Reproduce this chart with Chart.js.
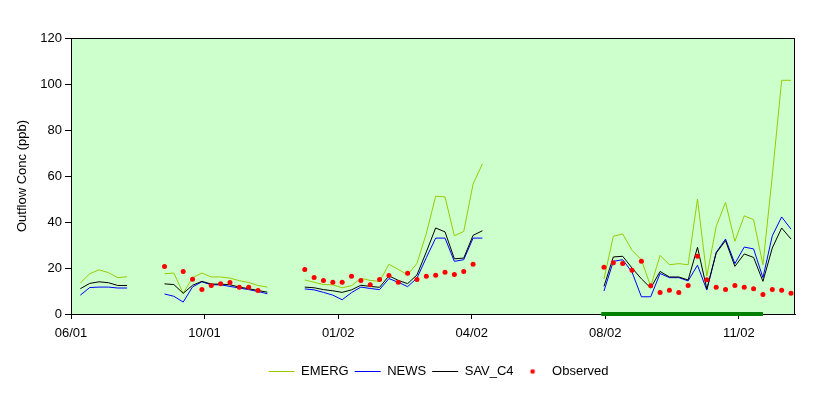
<!DOCTYPE html>
<html>
<head>
<meta charset="utf-8">
<script src="https://cdn.jsdelivr.net/npm/chart.js@4.4.0/dist/chart.umd.min.js"></script>
<style>
  html, body { margin: 0; padding: 0; background: #ffffff; }
</style>
</head>
<body>
<canvas id="chart" width="828" height="395"></canvas>
<script>
// weekly samples, day offsets from the first axis date (06/01)
const firstSampleDay = 7;
const sampleStepDays = 7;
const axisMaxDay = 542;

const tickLabels = ['06/01', '10/01', '01/02', '04/02', '08/02', '11/02'];
const tickStepDays = 100;

const emerg = [
  13.5, 17.5, 19.2, 18, 15.8, 16.2,
  null, null, null,
  17.5, 17.8, 9, 15.8, 17.8, 16.1, 16.1, 15.6, 14.5, 13.7, 12.4, 11.7,
  null, null, null,
  14.8, 13.8, 12.8, 12.7, 11.4, 12.3, 15.5, 14.6, 14.2, 21.6, 19.4, 17, 22, 35, 51.2, 50.9, 34, 35.9, 56.5, 65.3,
  null, null, null, null, null, null, null, null, null, null, null, null,
  15.2, 33.8, 34.8, 27.7, 23.6, 12, 25.5, 21.4, 21.9, 21.4, 50, 16.4, 38.1, 48.5, 31.6, 42.7, 41, 21.4, 60, 101.6, 101.6
];

const news = [
  8.2, 11.5, 11.7, 11.7, 11.3, 11.3,
  null, null, null,
  8.7, 7.7, 5.2, 11.8, 14, 12.7, 12.7, 12, 11.3, 10.6, 9.8, 8.8,
  null, null, null,
  10.9, 10.5, 9.4, 8.2, 6.2, 9.3, 11.7, 11.1, 10.6, 15.4, 13.8, 11.9, 15.6, 24.5, 33, 33, 22.9, 23.6, 33, 33,
  null, null, null, null, null, null, null, null, null, null, null, null,
  10, 22.9, 23.6, 18.2, 7.5, 7.5, 17.6, 15.8, 15.8, 14.4, 21.2, 10.4, 26.8, 32.6, 21.9, 29.1, 28.3, 15.8, 34, 42.2, 36.9
];

const savC4 = [
  11, 13.3, 14, 13.6, 12.4, 12.4,
  null, null, null,
  13.1, 12.8, 9, 12.5, 14.2, 13, 13, 12.7, 11.7, 11, 10.2, 9.5,
  null, null, null,
  11.7, 11.4, 10.6, 10.1, 9.4, 10.5, 12.5, 12, 11.6, 16.6, 14.6, 13.2, 17, 27, 37.4, 35.7, 24, 24.3, 34.2, 36.2,
  null, null, null, null, null, null, null, null, null, null, null, null,
  12, 24.8, 25.1, 20, 15.3, 11.3, 18.5, 16.1, 16.1, 14.8, 29, 10.9, 26.5, 31.9, 20.7, 26.1, 24.6, 14.2, 28.7, 37.4, 32.6
];

const observed = [
  null, null, null, null, null, null, null, null, null,
  20.7, null, 18.5, 15.1, 10.6, 12.4, 13.2, 13.7, 11.6, 11.6, 10.2,
  null, null, null, null,
  19.4, 15.9, 14.6, 13.8, 13.8, 16.4, 14.6, 12.7, 15.0, 16.7, 13.8, 17.7, 15.0, 16.4, 16.8, 18.1, 17.2, 18.5, 21.6,
  null, null, null, null, null, null, null, null, null, null, null, null, null,
  20.3, 22.3, 22.0, 19.0, 22.9, 12.3, 9.4, 10.3, 9.4, 12.4, 25.1, 14.9, 11.6, 10.7, 12.4, 11.6, 11.0, 8.5, 10.7, 10.3, 9.0
];

// highlighted period on the time axis (days)
const periodDays = [397, 518];

const toPoints = arr => arr.map((v, i) => ({ x: firstSampleDay + i * sampleStepDays, y: v }));

const FONT = "'Liberation Sans', Arial, sans-serif";

// small red dot used as the legend symbol for Observed
const dot = document.createElement('canvas');
dot.width = 26; dot.height = 8;
(function () {
  const c = dot.getContext('2d');
  c.fillStyle = '#ff0000';
  c.beginPath();
  c.arc(13, 4, 2.3, 0, Math.PI * 2);
  c.fill();
})();

const plotFrame = {
  id: 'plotFrame',
  beforeDatasetsDraw(chart) {
    const { ctx, chartArea: a } = chart;
    ctx.save();
    ctx.strokeStyle = '#000000';
    ctx.lineWidth = 1;
    ctx.strokeRect(a.left + 0.5, a.top + 0.5, a.right - a.left - 1, a.bottom - a.top);
    ctx.restore();
  },
  beforeDraw(chart) {
    const { ctx, chartArea: a } = chart;
    ctx.save();
    ctx.fillStyle = '#ccffcc';
    ctx.fillRect(a.left, a.top, a.right - a.left, a.bottom - a.top);
    ctx.restore();
  }
};

// Excel centres the legend a bit right of the canvas centre
const legendShift = {
  id: 'legendShift',
  afterLayout(chart) {
    const lg = chart.legend;
    lg.left += 41;
    lg.right += 41;
  }
};

const lineStyle = (label, data, color, order) => ({
  label: label,
  data: toPoints(data),
  borderColor: color,
  backgroundColor: color,
  borderWidth: 1,
  pointRadius: 0,
  spanGaps: false,
  order: order
});

new Chart(document.getElementById('chart'), {
  type: 'line',
  data: {
    datasets: [
      lineStyle('EMERG', emerg, '#99cc00', 4),
      lineStyle('NEWS', news, '#0000ff', 3),
      lineStyle('SAV_C4', savC4, '#000000', 2),
      {
        label: 'Observed',
        data: toPoints(observed),
        showLine: false,
        pointRadius: 2.5,
        pointStyle: 'circle',
        pointBackgroundColor: '#ff0000',
        pointBorderWidth: 0,
        order: 1
      },
      {
        label: 'period',
        data: periodDays.map(d => ({ x: d, y: 0 })),
        borderColor: '#008000',
        borderWidth: 4,
        pointRadius: 0,
        clip: false,
        order: 0
      }
    ]
  },
  options: {
    responsive: false,
    animation: false,
    layout: { padding: { left: 0, right: 33, top: 38, bottom: 7 } },
    scales: {
      x: {
        type: 'linear',
        min: 0,
        max: axisMaxDay,
        afterBuildTicks: s => {
          s.ticks = tickLabels.map((t, i) => ({ value: i * tickStepDays }));
        },
        afterFit: s => { s.height = 45; },
        ticks: {
          color: '#000000',
          font: { family: FONT, size: 13 },
          padding: 7,
          maxRotation: 0,
          callback: v => tickLabels[Math.round(v / tickStepDays)]
        },
        grid: { drawOnChartArea: false, tickLength: 5, color: '#000000' },
        border: { display: true, color: '#000000' }
      },
      y: {
        min: 0,
        max: 120,
        afterFit: s => { s.width = 71; },
        ticks: {
          stepSize: 20,
          color: '#000000',
          font: { family: FONT, size: 13 },
          padding: 3
        },
        grid: { drawOnChartArea: false, tickLength: 6, color: '#000000' },
        border: { display: true, color: '#000000' },
        title: {
          display: true,
          text: 'Outflow Conc (ppb)',
          color: '#000000',
          font: { family: FONT, size: 13 },
          padding: { top: 15, bottom: 0 }
        }
      }
    },
    plugins: {
      tooltip: { enabled: false },
      legend: {
        position: 'bottom',
        labels: {
          color: '#000000',
          font: { family: FONT, size: 13 },
          usePointStyle: true,
          pointStyleWidth: 26,
          padding: 6,
          generateLabels: chart => chart.data.datasets.slice(0, 4).map((ds, i) => ({
            text: ds.label,
            datasetIndex: i,
            fontColor: '#000000',
            strokeStyle: ds.borderColor,
            fillStyle: ds.borderColor,
            lineWidth: 1,
            pointStyle: ds.label === 'Observed' ? dot : 'line',
            hidden: false
          }))
        }
      }
    }
  },
  plugins: [plotFrame, legendShift]
});
</script>
</body>
</html>
